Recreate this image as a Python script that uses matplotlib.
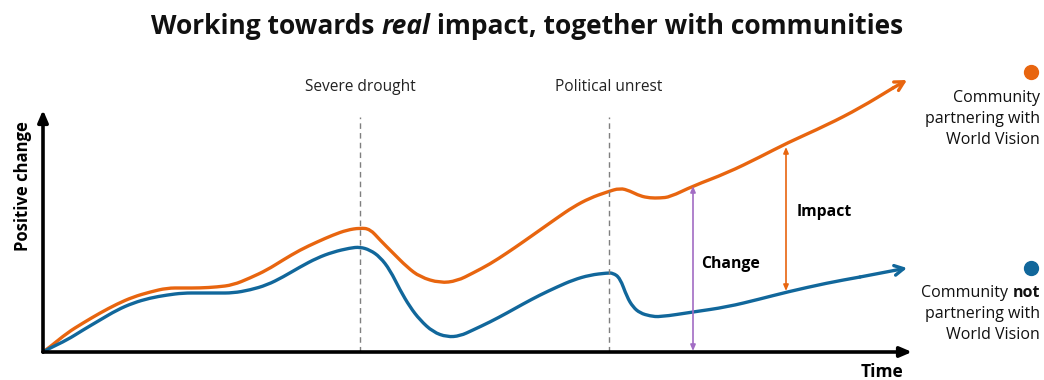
import matplotlib
matplotlib.use("Agg")
import matplotlib.pyplot as plt
from matplotlib.path import Path
from matplotlib.patches import PathPatch

plt.rcParams["font.family"] = ["Open Sans", "DejaVu Sans"]

ORANGE = "#e8650f"
BLUE = "#11679b"
PURPLE = "#a26cc4"

# time / value
t_partner = [0, 7, 24, 40, 57, 74, 90, 107, 124, 140, 157, 174, 190, 207, 224, 240,
             257, 274, 290, 304, 317, 327, 337, 350, 364, 377, 397, 414, 430, 447,
             464, 480, 497, 514, 530, 547, 564, 577, 587, 597, 607, 617, 627, 650,
             684, 717, 744, 784, 817, 850, 864]
v_partner = [0, 5, 19, 29, 39, 48, 55, 60, 64, 64, 64, 65, 67, 74, 82, 92,
             102, 110, 117, 122, 124, 123, 112, 99, 85, 75, 69, 71, 79, 88,
             99, 110, 122, 134, 145, 154, 160, 164, 161, 156, 154, 154, 155, 166,
             179, 195, 209, 227, 244, 264, 272]

t_other = [0, 7, 24, 40, 57, 74, 90, 107, 124, 140, 157, 174, 190, 207, 224, 240,
           257, 274, 290, 307, 317, 327, 337, 347, 357, 367, 377, 390, 404, 417,
           430, 447, 464, 480, 497, 514, 530, 547, 564, 570, 577, 584, 590, 597,
           607, 617, 650, 684, 717, 744, 784, 817, 864]
v_other = [0, 4, 12, 22, 32, 42, 49, 54, 57, 59, 59, 59, 59, 62, 67, 75,
           85, 94, 100, 104, 105, 102, 95, 82, 62, 45, 32, 20, 15, 16,
           22, 30, 39, 48, 57, 65, 72, 77, 79, 79, 74, 55, 45, 39,
           36, 35, 40, 45, 53, 60, 69, 75, 84]

events = ["Severe drought", "Political unrest"]
event_t = [317, 566]

change_t = 650
impact_t = 743

W, H = 1044, 380
fig = plt.figure(figsize=(W / 100, H / 100), dpi=100)
ax = fig.add_axes([43 / W, 28 / H, 869 / W, 242 / H])
ax.set_xlim(0, 869)
ax.set_ylim(0, 242)
ax.axis("off")

# axes with arrow heads
ax.annotate("", xy=(869, 0), xytext=(0, 0),
            arrowprops=dict(arrowstyle="-|>,head_length=0.7,head_width=0.3",
                            lw=2.6, color="black", shrinkA=0, shrinkB=0),
            annotation_clip=False)
ax.annotate("", xy=(0, 242), xytext=(0, 0),
            arrowprops=dict(arrowstyle="-|>,head_length=0.7,head_width=0.3",
                            lw=2.6, color="black", shrinkA=0, shrinkB=0),
            annotation_clip=False)
ax.text(860, -11, "Time", ha="right", va="top", fontsize=12.5, fontweight="bold")
ax.text(-20, 166, "Positive change", rotation=90, ha="center", va="center",
        fontsize=12, fontweight="bold")

# event markers
for name, t in zip(events, event_t):
    ax.plot([t, t], [0, 235], ls=(0, (4, 3)), color="#7f7f7f", lw=1)
    ax.text(t, 265, name, ha="center", va="center", fontsize=11.2, color="#222222",
            clip_on=False)


def smooth_path(xs, ys):
    # quadratic bezier: read points act as control points, joined at midpoints
    verts = [(xs[0], ys[0])]
    codes = [Path.MOVETO]
    for i in range(1, len(xs) - 1):
        verts += [(xs[i], ys[i]),
                  ((xs[i] + xs[i + 1]) / 2, (ys[i] + ys[i + 1]) / 2)]
        codes += [Path.CURVE3, Path.CURVE3]
    verts.append((xs[-1], ys[-1]))
    codes.append(Path.LINETO)
    return Path(verts, codes)


# curves
for tt, vv, c in [(t_partner, v_partner, ORANGE), (t_other, v_other, BLUE)]:
    ax.add_patch(PathPatch(smooth_path(tt[:-1], vv[:-1]), fill=False, ec=c,
                           lw=2.4, capstyle="round", joinstyle="round",
                           clip_on=False))
    ax.annotate("", xy=(tt[-1], vv[-1]), xytext=(tt[-2], vv[-2]),
                arrowprops=dict(arrowstyle="->,head_length=0.65,head_width=0.35",
                                lw=2.4, color=c, shrinkA=0, shrinkB=0),
                annotation_clip=False)

# change and impact arrows
v_top_change = v_partner[t_partner.index(change_t)]
ax.annotate("", xy=(change_t, 1), xytext=(change_t, v_top_change),
            arrowprops=dict(arrowstyle="<|-|>,head_length=0.35,head_width=0.15",
                            lw=1.2, color=PURPLE, shrinkA=0, shrinkB=0))
ax.text(change_t + 8, 88, "Change", ha="left", va="center", fontsize=11.3,
        fontweight="bold")
ax.annotate("", xy=(impact_t, 61), xytext=(impact_t, 205),
            arrowprops=dict(arrowstyle="<|-|>,head_length=0.35,head_width=0.15",
                            lw=1.2, color=ORANGE, shrinkA=0, shrinkB=0))
ax.text(impact_t + 11, 140, "Impact", ha="left", va="center", fontsize=11.3,
        fontweight="bold")

# legend dots
ax.plot([988], [280], "o", ms=10, color=ORANGE, clip_on=False)
ax.plot([988], [84], "o", ms=10, color=BLUE, clip_on=False)

fig.canvas.draw()
renderer = fig.canvas.get_renderer()


def place_pieces(pieces, x_px, y_px, ha, size):
    """Place text pieces of different styles side by side (pixel coords)."""
    widths = []
    objs = []
    for txt, weight, style in pieces:
        o = fig.text(0, 0, txt, fontsize=size, fontweight=weight, style=style,
                     va="center", ha="left", color="#111111")
        widths.append(o.get_window_extent(renderer).width)
        objs.append(o)
    total = sum(widths)
    if ha == "center":
        x = x_px - total / 2
    elif ha == "right":
        x = x_px - total
    else:
        x = x_px
    for o, w in zip(objs, widths):
        o.set_position((x / W, 1 - y_px / H))
        x += w


place_pieces([("Working towards ", "bold", "normal"), ("real", "bold", "italic"),
              (" impact", "bold", "normal"),
              (", together with communities", "bold", "normal")],
             527, 26, "center", 19)

legend_size = 11.5
for i, line in enumerate(["Community", "partnering with", "World Vision"]):
    fig.text(1040 / W, 1 - (98 + 21 * i) / H, line, ha="right", va="center",
             fontsize=legend_size, color="#111111")
place_pieces([("Community ", "normal", "normal"), ("not", "bold", "normal")],
             1040, 293, "right", legend_size)
for i, line in enumerate(["partnering with", "World Vision"]):
    fig.text(1040 / W, 1 - (314 + 21 * i) / H, line, ha="right", va="center",
             fontsize=legend_size, color="#111111")

fig.savefig("out.png", dpi=100)
